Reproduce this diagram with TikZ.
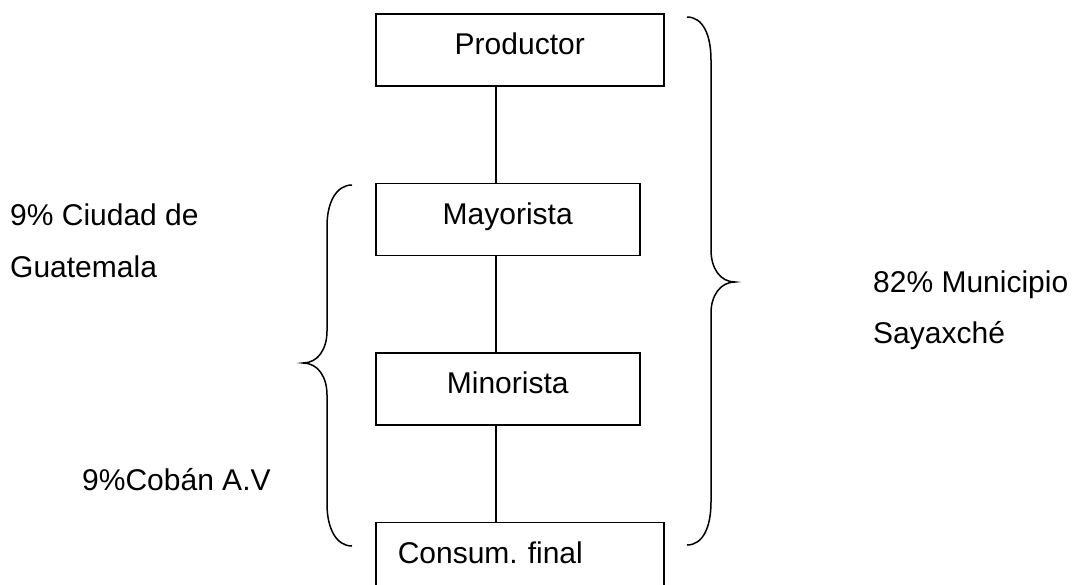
\documentclass[tikz,border=0pt]{standalone}
\usepackage{fontspec}
\setmainfont{Liberation Sans}
\usetikzlibrary{positioning}
\frenchspacing

\begin{document}
\begin{tikzpicture}[x=1pt, y=-1pt, node distance=96pt,
    caja/.style={draw, line width=1.5pt, minimum height=72pt, inner sep=0pt,
                 text height=22pt, text depth=12pt, font=\fontsize{30}{36}\selectfont},
    rotulo/.style={inner sep=0pt, anchor=base west, font=\fontsize{30}{36}\selectfont},
    llave/.style={line width=1.5pt}]
    \useasboundingbox (0,0) rectangle (1076,584);
    \coordinate (eje) at (496,0);
    % canal de comercializacion
    \node[caja, minimum width=288pt, anchor=north west] (prod) at (375,13) {Productor};
    \node[caja, minimum width=264pt, below=of prod.south west, anchor=north west] (may) {Mayorista};
    \node[caja, minimum width=264pt, below=of may.south west, anchor=north west] (mino) {Minorista};
    \node[caja, text width=244pt, inner xsep=22pt, align=left,
          below=of mino.south west, anchor=north west] (cons) {Consum. final};
    \foreach \a/\b in {prod/may, may/mino, mino/cons}
      \draw[line width=1.5pt] (\a.south -| eje) -- (\b.north -| eje);
    % llaves
    \draw[llave] (687,17) .. controls (703,17) and (711,35) .. (711,60) -- (711,250)
      .. controls (711,268) and (720,282) .. (735,282)
      .. controls (720,282) and (711,296) .. (711,313) -- (711,502)
      .. controls (711,527) and (703,545) .. (687,545);
    \draw[llave] (352,185) .. controls (336,185) and (327,203) .. (327,226) -- (327,331)
      .. controls (327,349) and (318,363) .. (303,363)
      .. controls (318,363) and (327,377) .. (327,395) -- (327,504)
      .. controls (327,528) and (336,546) .. (352,546);
    % porcentajes
    \node[rotulo] (ciudad) at (10,225) {9\% Ciudad de};
    \node[rotulo] (guate)  at (10,277) {Guatemala};
    \node[rotulo] (coban)  at (82,490) {9\%Cobán A.V};
    \node[rotulo] (munic)  at (873,292) {82\% Municipio};
    \node[rotulo] (saya)   at (873,343) {Sayaxché};
\end{tikzpicture}
\end{document}
